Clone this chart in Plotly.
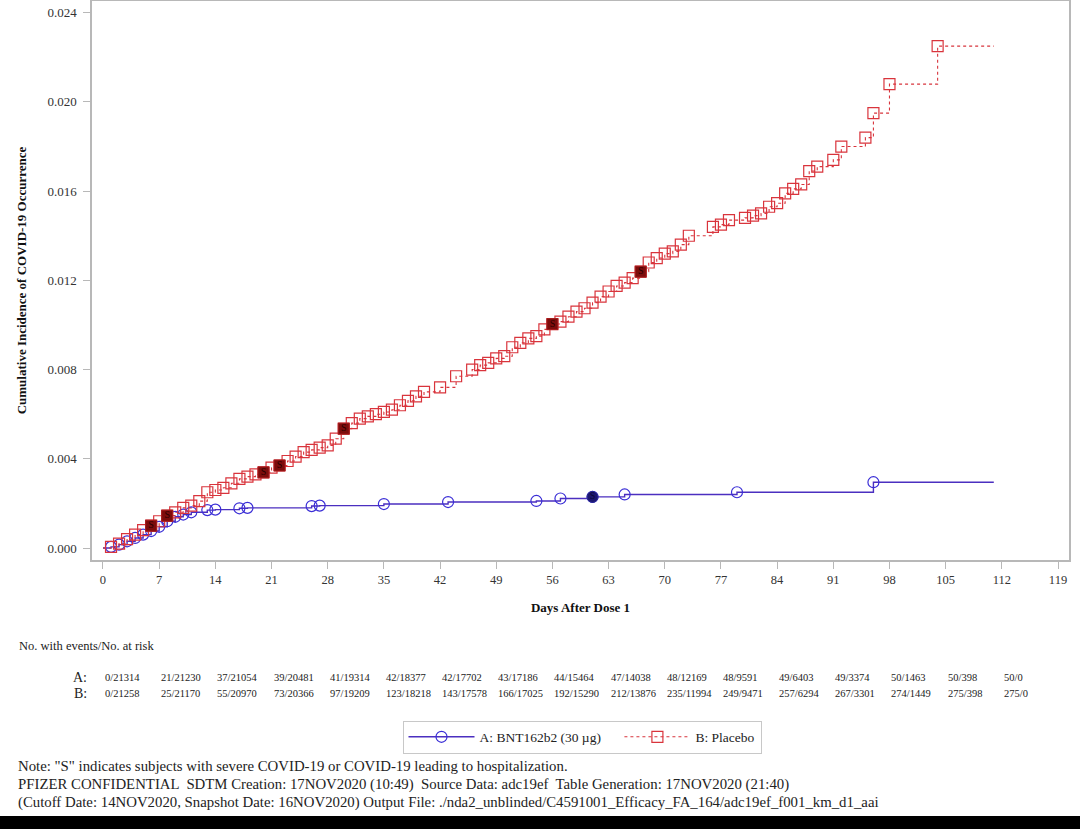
import plotly.graph_objects as go

# ---------------- data ----------------
placebo_days = [1, 2, 3, 4, 5, 6, 7, 8, 9, 10, 11, 12, 13, 14, 15, 16, 17, 18, 19, 20,
                21, 22, 23, 24, 25, 26, 27, 28, 29, 30, 31, 32, 33, 34, 35, 36, 37, 38, 39, 40,
                42, 44, 46, 47, 48, 49, 50, 51, 52, 53, 54, 55, 56, 57, 58, 59, 60, 61, 62, 63,
                64, 65, 66, 67, 68, 69, 70, 71, 72, 73, 76, 77, 78, 80, 81, 82, 83, 84, 85, 86,
                87, 88, 89, 91, 92, 95, 96, 98, 104]
placebo_cif = [0.00005, 0.0002, 0.0004, 0.0006, 0.0008, 0.0010, 0.0012, 0.00145, 0.0016, 0.0018,
               0.0019, 0.0021, 0.0025, 0.0026, 0.0027, 0.0029, 0.0031, 0.0032, 0.0033, 0.00339,
               0.0036, 0.0037, 0.0039, 0.0041, 0.0043, 0.0044, 0.0045, 0.0046, 0.0049, 0.00535,
               0.0056, 0.0058, 0.0059, 0.0060, 0.0061, 0.0062, 0.0064, 0.0066, 0.0068, 0.0070,
               0.0072, 0.0077, 0.0080, 0.0082, 0.0083, 0.0085, 0.0086, 0.0090, 0.0092, 0.0094,
               0.0095, 0.0098, 0.01004, 0.01015, 0.01037, 0.0106, 0.01075, 0.0110, 0.01127, 0.0115,
               0.01175, 0.0119, 0.0121, 0.01239, 0.0128, 0.0130, 0.0132, 0.0133, 0.0136, 0.0140,
               0.0144, 0.0145, 0.0147, 0.0148, 0.0149, 0.0150, 0.0153, 0.01546, 0.0159, 0.0161,
               0.0163, 0.0169, 0.0171, 0.0174, 0.0180, 0.0184, 0.0195, 0.0208, 0.0225]
placebo_severe_days = [6, 8, 20, 22, 30, 56, 67]

vaccine_days = [1, 2, 3, 4, 5, 6, 7, 8, 9, 10, 11, 13, 14, 17, 18, 26, 27, 35, 43, 54,
                57, 61, 65, 79, 96]
vaccine_cif = [0.00005, 0.00015, 0.0003, 0.00045, 0.0006, 0.00076, 0.00095, 0.0012, 0.0014, 0.0015,
               0.0016, 0.0017, 0.00172, 0.00178, 0.0018, 0.00188, 0.0019, 0.00197, 0.00206, 0.00211,
               0.00222, 0.00229, 0.0024, 0.0025, 0.00295]
vaccine_severe_days = [61]

followup_end = 111

risk_days = [0, 7, 14, 21, 28, 35, 42, 49, 56, 63, 70, 77, 84, 91, 98, 105, 112]
risk_a = ["0/21314", "21/21230", "37/21054", "39/20481", "41/19314", "42/18377", "42/17702",
          "43/17186", "44/15464", "47/14038", "48/12169", "48/9591", "49/6403", "49/3374",
          "50/1463", "50/398", "50/0"]
risk_b = ["0/21258", "25/21170", "55/20970", "73/20366", "97/19209", "123/18218", "143/17578",
          "166/17025", "192/15290", "212/13876", "235/11994", "249/9471", "257/6294", "267/3301",
          "274/1449", "275/398", "275/0"]

x_ticks = list(range(0, 120, 7))
y_ticks = [0.000, 0.004, 0.008, 0.012, 0.016, 0.020, 0.024]

name_a = "A: BNT162b2 (30 µg)"
name_b = "B: Placebo"

# ---------------- styling ----------------
SERIF = "Liberation Serif"
VAC_LINE = "#4b2fc0"
VAC_MARK = "#3a2ed6"
PLA_LINE = "#d8353d"
PLA_MARK = "#d9343c"
AXIS_COL = "#b8b8b8"

fig = go.Figure()

# step lines
fig.add_trace(go.Scatter(
    x=[0] + vaccine_days + [followup_end], y=[0] + vaccine_cif + [vaccine_cif[-1]],
    mode="lines", line=dict(color=VAC_LINE, width=1.4, shape="hv"),
    showlegend=False, hoverinfo="skip"))
fig.add_trace(go.Scatter(
    x=[0] + placebo_days + [followup_end], y=[0] + placebo_cif + [placebo_cif[-1]],
    mode="lines", line=dict(color=PLA_LINE, width=1.1, shape="hv", dash="3px,3px"),
    showlegend=False, hoverinfo="skip"))

# event markers
fig.add_trace(go.Scatter(
    x=vaccine_days, y=vaccine_cif, mode="markers",
    marker=dict(symbol="circle-open", size=11, color=VAC_MARK, line=dict(width=1.2, color=VAC_MARK)),
    showlegend=False))
fig.add_trace(go.Scatter(
    x=placebo_days, y=placebo_cif, mode="markers",
    marker=dict(symbol="square-open", size=11, color=PLA_MARK, line=dict(width=1.2, color=PLA_MARK)),
    showlegend=False))

# severe cases (S)
ps_y = [placebo_cif[placebo_days.index(d)] for d in placebo_severe_days]
vs_y = [vaccine_cif[vaccine_days.index(d)] for d in vaccine_severe_days]
fig.add_trace(go.Scatter(
    x=placebo_severe_days, y=ps_y, mode="markers+text", text=["S"] * len(ps_y),
    textposition="middle center", textfont=dict(family=SERIF, size=10, color="#2b0000"),
    marker=dict(symbol="square", size=11, color="#7d0c0c", line=dict(width=1, color="#a51c1c")),
    showlegend=False))
fig.add_trace(go.Scatter(
    x=vaccine_severe_days, y=vs_y, mode="markers+text", text=["S"] * len(vs_y),
    textposition="middle center", textfont=dict(family=SERIF, size=10, color="#0a0a3a"),
    marker=dict(symbol="circle", size=11, color="#1c1670", line=dict(width=1, color="#2a2a90")),
    showlegend=False))

# legend entries
fig.add_trace(go.Scatter(
    x=[None], y=[None], mode="lines+markers", name=name_a + "\u00a0\u00a0\u00a0\u00a0",
    line=dict(color=VAC_LINE, width=1.4),
    marker=dict(symbol="circle-open", size=11, color=VAC_MARK, line=dict(width=1.2))))
fig.add_trace(go.Scatter(
    x=[None], y=[None], mode="lines+markers", name=name_b,
    line=dict(color=PLA_LINE, width=1.1, dash="3px,3px"),
    marker=dict(symbol="square-open", size=11, color=PLA_MARK, line=dict(width=1.2))))

# ---------------- layout ----------------
T, B, L, R = 1, 269, 92, 11
plot_h = 829 - T - B


def py(pixel_y):
    return (829 - B - pixel_y) / plot_h


def px(pixel_x):
    return (pixel_x - L) / (1080 - L - R)


annotations = []
annotations.append(dict(text="No. with events/No. at risk", x=px(17), y=py(646), xref="paper", yref="paper",
                        xanchor="left", yanchor="middle", showarrow=False,
                        font=dict(family=SERIF, size=12.5, color="#222")))
for lab, row, yy in (("A:", risk_a, 677), ("B:", risk_b, 693)):
    annotations.append(dict(text=lab, x=px(89), y=py(yy), xref="paper", yref="paper",
                            xanchor="right", yanchor="middle", showarrow=False,
                            font=dict(family=SERIF, size=14, color="#222")))
    for d, t in zip(risk_days, row):
        annotations.append(dict(text=t, x=d, y=py(yy), xref="x", yref="paper",
                                xanchor="left", yanchor="middle", showarrow=False,
                                font=dict(family=SERIF, size=10.5, color="#222")))

notes = [
    'Note: "S" indicates subjects with severe COVID-19 or COVID-19 leading to hospitalization.',
    "PFIZER CONFIDENTIAL  SDTM Creation: 17NOV2020 (10:49)  Source Data: adc19ef  Table Generation: 17NOV2020 (21:40)",
    "(Cutoff Date: 14NOV2020, Snapshot Date: 16NOV2020) Output File: ./nda2_unblinded/C4591001_Efficacy_FA_164/adc19ef_f001_km_d1_aai",
]
for i, n in enumerate(notes):
    annotations.append(dict(text=n, x=px(16), y=py(766 + 18 * i), xref="paper", yref="paper",
                            xanchor="left", yanchor="middle", showarrow=False,
                            font=dict(family=SERIF, size=14.8, color="#222")))

shapes = [dict(type="rect", xref="paper", yref="paper", x0=px(0), x1=px(1080), y0=py(840), y1=py(816),
               fillcolor="black", line=dict(width=0), layer="above")]

fig.update_layout(
    width=1080, height=829,
    margin=dict(l=L, r=R, t=T, b=B, autoexpand=False),
    paper_bgcolor="white", plot_bgcolor="white",
    font=dict(family=SERIF, size=12, color="#333"),
    xaxis=dict(range=[-1.37, 120.37], tickvals=x_ticks, ticks="outside", ticklen=7, tickcolor=AXIS_COL,
               showgrid=False, zeroline=False, showline=True, linecolor=AXIS_COL, linewidth=1.5, mirror=True,
               tickfont=dict(family=SERIF, size=12.5, color="#333"),
               title=dict(text="<b>Days After Dose 1</b>", standoff=17,
                          font=dict(family=SERIF, size=13, color="#111"))),
    yaxis=dict(range=[-0.000538, 0.024525], tickvals=y_ticks, tickformat=".3f", ticks="outside", ticklen=7,
               tickcolor=AXIS_COL, showgrid=False, zeroline=False, showline=True, linecolor=AXIS_COL,
               linewidth=1.5, mirror=True, tickfont=dict(family=SERIF, size=13, color="#333"),
               ticklabelstandoff=4,
               title=dict(text="<b>Cumulative Incidence of COVID-19 Occurrence</b>", standoff=18,
                          font=dict(family=SERIF, size=13, color="#111"))),
    legend=dict(orientation="h", x=px(582), y=py(737), xanchor="center", yanchor="middle",
                bordercolor="#c8c8c8", borderwidth=1, bgcolor="white", itemwidth=66,
                font=dict(family=SERIF, size=13.5, color="#222")),
    annotations=annotations, shapes=shapes,
)

fig.write_html("out.html", config={"displayModeBar": False},
               post_script="document.body.style.margin='0';")
